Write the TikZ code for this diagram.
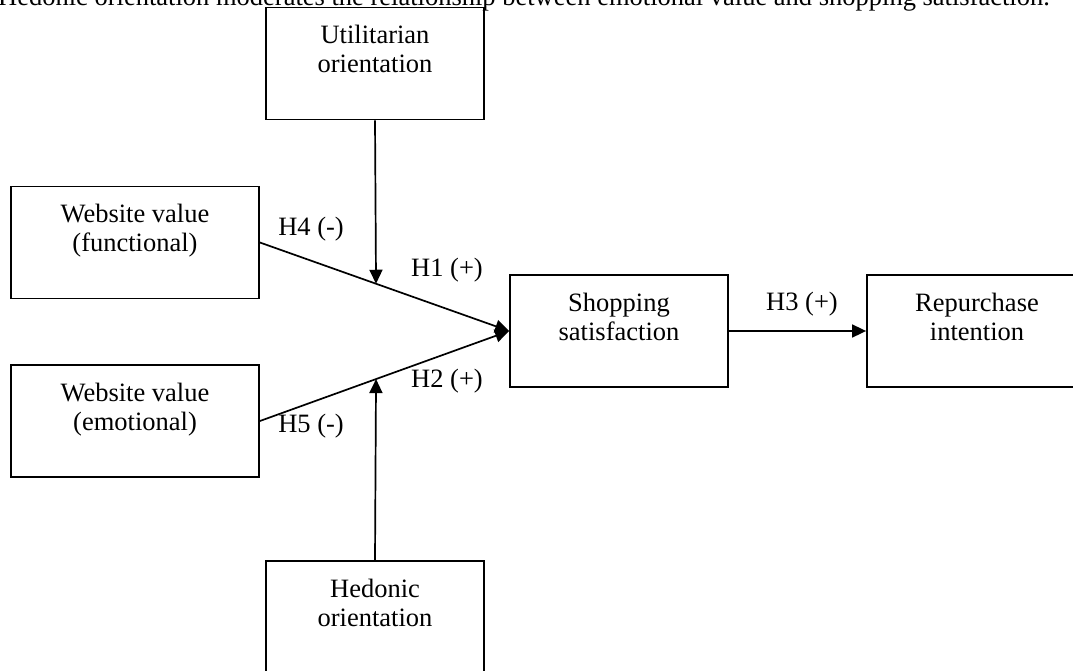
\documentclass[tikz,border=0pt]{standalone}
\usepackage{fontspec}
\setmainfont{Liberation Serif}
\usetikzlibrary{arrows.meta}
\newcommand{\mybx}[2]{\parbox[c][112pt][t]{#1}{\centering\vspace*{18pt}#2\par}}
\tikzset{
  bx/.style={draw, line width=1.8pt, inner sep=0pt, fill=white},
  conn/.style={line width=1.7pt, -{Triangle[length=14pt,width=13pt]}},
  hyp/.style={anchor=base, inner sep=0pt},
}
\begin{document}
\begin{tikzpicture}[x=1pt,y=-1pt,font=\fontsize{26.5}{29}\selectfont]
\useasboundingbox (0,0) rectangle (1073,671);
\clip (0,0) rectangle (1073,671);
\node[bx] (util) at (375,63.5) {\mybx{218pt}{Utilitarian\\orientation}};
\node[bx] (func) at (135,242.5) {\mybx{248pt}{Website value\\(functional)}};
\node[bx] (emo) at (135,421) {\mybx{248pt}{Website value\\(emotional)}};
\node[bx] (shop) at (619,331) {\mybx{218pt}{Shopping\\satisfaction}};
\node[bx] (rep) at (977,331) {\mybx{220pt}{Repurchase\\intention}};
\node[bx] (hed) at (375,617) {\mybx{218pt}{Hedonic\\orientation}};
\node[anchor=base west, inner sep=0pt] (title) at (-2,6) {Hedonic orientation moderates the relationship between emotional value and shopping satisfaction.};
\draw[conn] (func.east) -- (shop.west) coordinate[pos=0.466] (m1);
\draw[conn] (emo.east) -- (shop.west) coordinate[pos=0.466] (m2);
\draw[conn] (util.south) -- (m1);
\draw[conn] (hed.north) -- (m2);
\draw[conn] (shop.east) -- (rep.west);
\node[hyp] (h4) at (311,236) {H4 (-)};
\node[hyp] (h1) at (447,276) {H1 (+)};
\node[hyp] (h2) at (447,387) {H2 (+)};
\node[hyp] (h5) at (311,432) {H5 (-)};
\node[hyp] (h3) at (802,310) {H3 (+)};
\end{tikzpicture}
\end{document}
